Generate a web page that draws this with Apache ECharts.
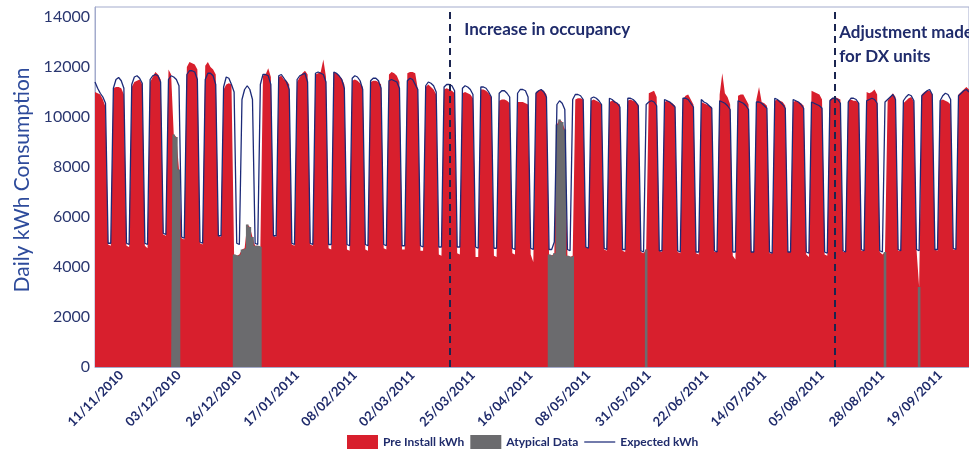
<!DOCTYPE html>
<html><head><meta charset="utf-8">
<script src="https://cdn.jsdelivr.net/npm/echarts@6/dist/echarts.min.js"></script>
<style>html,body{margin:0;padding:0;background:#fff}#c{width:969px;height:454px}</style>
</head><body><div id="c"></div>
<script>
// ---- data ----
const startYear = 2010, startMonth = 10, startDay = 1; // 01/11/2010 (month 0-based)
const dayCount = 334;
const tickLabels = ['11/11/2010','03/12/2010','26/12/2010','17/01/2011','08/02/2011','02/03/2011','25/03/2011','16/04/2011','08/05/2011','31/05/2011','22/06/2011','14/07/2011','05/08/2011','28/08/2011','19/09/2011'];
const eventDates = ['16/03/2011','10/08/2011'];
const eventNotes = ['Increase in occupancy','Adjustment made\nfor DX units'];

// Pre Install kWh, one row per week (Mon..Sun); null = atypical day
const preInstall = [
11000,10950,10900,10700,10400,4900,4850,
11150,11200,11200,11150,10900,4850,4800,
11200,11400,11450,11500,11300,4850,4750,
11400,11600,11800,11700,11500,5300,5250,
11900,11700,null,null,null,5150,5100,
12000,12200,12150,12100,11900,4950,4900,
12050,12200,12000,11900,11700,5250,5200,
11100,11300,11350,11300,null,null,null,
null,null,null,null,null,null,null,
null,11650,11700,11950,11600,5250,5200,
11600,11650,11500,11450,11300,4900,4850,
11400,11600,11750,11850,11700,4900,4850,
11700,11750,11800,12300,11600,4750,4700,
11800,11750,11650,11550,11300,4700,4650,
11450,11500,11450,11350,11200,4700,4650,
11400,11450,11450,11400,11300,4750,4700,
11700,11800,11750,11650,11400,4700,4700,
11750,11800,11800,11750,11100,4650,4650,
11200,11300,11200,11100,10900,4500,4450,
11100,11150,11100,11050,10950,4550,4500,
10950,11000,10950,10900,10750,4400,4400,
11100,11100,11050,10950,10800,4450,4400,
10650,10700,10700,10650,10550,4550,4500,
10600,10600,10600,10550,10500,4500,4200,
11000,11050,11100,11050,10900,null,null,
null,null,null,null,null,null,null,
null,10700,10750,10750,10700,4800,4750,
10650,10700,10650,10600,10500,4700,4650,
10600,10650,10650,10550,10500,4650,4600,
10650,10700,10650,10600,10500,4600,4550,
null,10950,11000,11050,10800,4650,4600,
10600,10650,10600,10550,10450,4600,4550,
10700,10850,10900,10700,10500,4550,4500,
10600,10550,10500,10450,10400,4600,4600,
10900,11750,10950,10800,10500,4450,4300,
10850,10900,10900,10700,10500,4600,4600,
10700,11200,10600,10550,10450,4550,4550,
10650,10700,10650,10600,10450,4600,4600,
10600,10650,10600,10550,10450,4500,4400,
11050,11000,10950,10900,10700,4500,4450,
10700,10750,10800,10750,10700,4600,4600,
10650,10700,10650,10650,10550,4650,4650,
11000,10950,11000,11100,10900,4600,4500,
null,10650,10800,10950,10800,4650,4650,
10550,10650,10750,10800,10600,4700,null,
10900,11000,11050,11050,10900,4700,4650,
10650,10700,10650,10600,10500,4700,4700,
10900,11000,11100,11200,11100
];

// Atypical Data days
const atypicalDays = [
['01/12/2010',9300],['02/12/2010',9200],['03/12/2010',7900],
['24/12/2010',4500],['25/12/2010',4450],['26/12/2010',4500],['27/12/2010',4700],['28/12/2010',4750],
['29/12/2010',5700],['30/12/2010',5600],['31/12/2010',5200],['01/01/2011',4850],['02/01/2011',4850],['03/01/2011',4800],
['23/04/2011',4500],['24/04/2011',4450],['25/04/2011',4550],['26/04/2011',9700],['27/04/2011',9900],
['28/04/2011',9800],['29/04/2011',9500],['30/04/2011',4450],['01/05/2011',4400],['02/05/2011',4450],
['30/05/2011',4700],['29/08/2011',4600],['11/09/2011',3200]
];

// Expected kWh, one row per week (Mon..Sun)
const expected = [
11400,11150,10950,10800,10550,4950,4950,
11150,11500,11580,11450,11150,4950,4900,
11300,11600,11650,11550,11350,4950,4900,
11500,11650,11700,11650,11400,5350,5300,
11500,11650,11600,11500,11250,5200,5150,
11700,11850,11850,11800,11500,5000,4950,
11500,11750,11750,11650,11300,5250,5250,
11200,11600,11550,11300,11000,4950,4900,
10700,11100,11250,11100,10700,4950,4900,
11300,11700,11700,11650,11300,5250,5250,
11650,11700,11550,11400,11100,4950,4900,
11500,11650,11700,11750,11400,4950,4900,
11750,11800,11750,11700,11400,4900,4900,
11800,11750,11650,11500,11150,4900,4850,
11550,11650,11600,11450,11100,4900,4850,
11450,11550,11550,11450,11150,4900,4850,
11450,11500,11450,11400,11150,4850,4850,
11450,11550,11500,11300,11100,4850,4800,
11250,11400,11350,11250,11000,4800,4800,
11200,11300,11300,11250,11050,4800,4800,
11150,11250,11200,11100,10900,4800,4750,
11200,11200,11150,11000,10800,4750,4750,
10950,11050,11050,10950,10800,4750,4700,
10950,11100,11100,11050,10800,4750,4700,
10950,11050,11100,11000,10800,4700,4700,
5000,10500,10650,10550,10300,4700,4650,
10700,10900,10900,10850,10700,4800,4750,
10750,10800,10750,10650,10500,4750,4700,
10750,10700,10600,10550,10400,4700,4700,
10750,10750,10700,10600,10450,4650,4600,
10500,10600,10650,10600,10450,4650,4650,
10700,10650,10600,10500,10400,4650,4600,
10750,10750,10700,10550,10400,4600,4600,
10700,10600,10550,10450,10350,4650,4600,
10650,10600,10550,10450,10300,4600,4600,
10650,10600,10550,10450,10300,4600,4600,
10600,10600,10550,10450,10350,4600,4550,
10750,10700,10600,10500,10350,4600,4600,
10700,10650,10600,10500,10350,4600,4550,
10600,10550,10500,10450,10350,4600,4550,
10650,10750,10750,10700,10550,4650,4600,
10600,10750,10750,10700,10550,4700,4650,
10650,10700,10750,10700,10550,4650,4600,
10600,10700,10800,10900,10700,4700,4650,
10650,10800,10900,10850,10650,4700,4650,
10850,10950,11050,11100,10900,4700,4700,
10650,10850,10950,10900,10700,4750,4700,
10850,10950,11050,11100,11000
];

// ---- build ----
const RED = '#d81f2d', GRAY = '#6b6b6e', BLUE = '#1c2a78', NAVY = '#1f2b6b';
const pad = n => String(n).padStart(2, '0');
const dates = [];
for (let i = 0; i < dayCount; i++) {
  const d = new Date(Date.UTC(startYear, startMonth, startDay + i));
  dates.push(pad(d.getUTCDate()) + '/' + pad(d.getUTCMonth() + 1) + '/' + d.getUTCFullYear());
}
const atyMap = Object.fromEntries(atypicalDays);
// red area outline runs continuously; atypical days are painted over in gray
const preSeries = preInstall.map((v, i) => v == null ? (atyMap[dates[i]] || 0) : v);
const atySeries = dates.map(d => atyMap[d] != null ? atyMap[d] : 0);
const tickSet = new Set(tickLabels);

const chart = echarts.init(document.getElementById('c'), null, {renderer: 'canvas'});
chart.setOption({
  animation: false,
  grid: {left: 95, right: -2, top: 7, bottom: 87, show: true, borderColor: '#a3abcc', borderWidth: 1},
  xAxis: {
    type: 'category', data: dates, boundaryGap: false,
    axisLine: {lineStyle: {color: '#a3abcc', width: 1}},
    axisTick: {show: false}, splitLine: {show: false},
    axisLabel: {interval: (i, v) => tickSet.has(v), rotate: 45, color: NAVY,
      fontFamily: 'Lato', fontWeight: 'bold', fontSize: 13, margin: 6}
  },
  yAxis: {
    type: 'value', min: 0, max: 14400, interval: 2000,
    axisLine: {show: true, lineStyle: {color: '#a3abcc', width: 1}},
    axisTick: {show: false}, splitLine: {show: false},
    axisLabel: {formatter: v => (v % 2000 === 0 && v <= 14000) ? String(v) : '',
      color: '#2a3770', fontFamily: 'Lato', fontSize: 16, margin: 5}
  },
  legend: {
    left: 347, top: 435, padding: 0, itemWidth: 31, itemHeight: 14, itemGap: 6,
    textStyle: {color: NAVY, fontFamily: 'Lato', fontWeight: 'bold', fontSize: 12},
    data: [{name: 'Pre Install kWh', icon: 'rect'}, {name: 'Atypical Data', icon: 'rect'},
      {name: 'Expected kWh', icon: 'path://M0 0H100V4H0Z'}]
  },
  series: [
    {name: 'Pre Install kWh', type: 'line', data: preSeries, symbol: 'none',
      lineStyle: {width: 0, opacity: 0}, areaStyle: {color: RED, opacity: 1}, itemStyle: {color: RED}, z: 1},
    {name: 'Atypical Data', type: 'line', step: 'middle', data: atySeries, symbol: 'none',
      lineStyle: {width: 0, opacity: 0}, areaStyle: {color: GRAY, opacity: 1}, itemStyle: {color: GRAY}, z: 2},
    {name: 'Expected kWh', type: 'line', data: expected, symbol: 'none',
      lineStyle: {color: BLUE, width: 1.3}, itemStyle: {color: BLUE}, z: 3,
      markLine: {silent: true, symbol: 'none', label: {show: false},
        lineStyle: {color: '#1b2550', width: 2, type: [7, 5]},
        data: eventDates.map(d => ({xAxis: d}))}}
  ]
});

const ex = eventDates.map(d => chart.convertToPixel({xAxisIndex: 0}, d));
chart.setOption({
  graphic: [
    {type: 'text', x: 22, y: 180, rotation: Math.PI / 2,
      style: {text: 'Daily kWh Consumption', fill: '#2e4b9b', font: '21px Lato', align: 'center', verticalAlign: 'middle'}},
    {type: 'text', x: ex[0] + 15, y: 21,
      style: {text: eventNotes[0], fill: NAVY, font: 'bold 17px Lato', align: 'left', verticalAlign: 'top'}},
    {type: 'text', x: ex[1] + 4, y: 21,
      style: {text: eventNotes[1], fill: NAVY, font: 'bold 17px Lato', lineHeight: 24, align: 'left', verticalAlign: 'top'}}
  ]
});
</script>
</body></html>
